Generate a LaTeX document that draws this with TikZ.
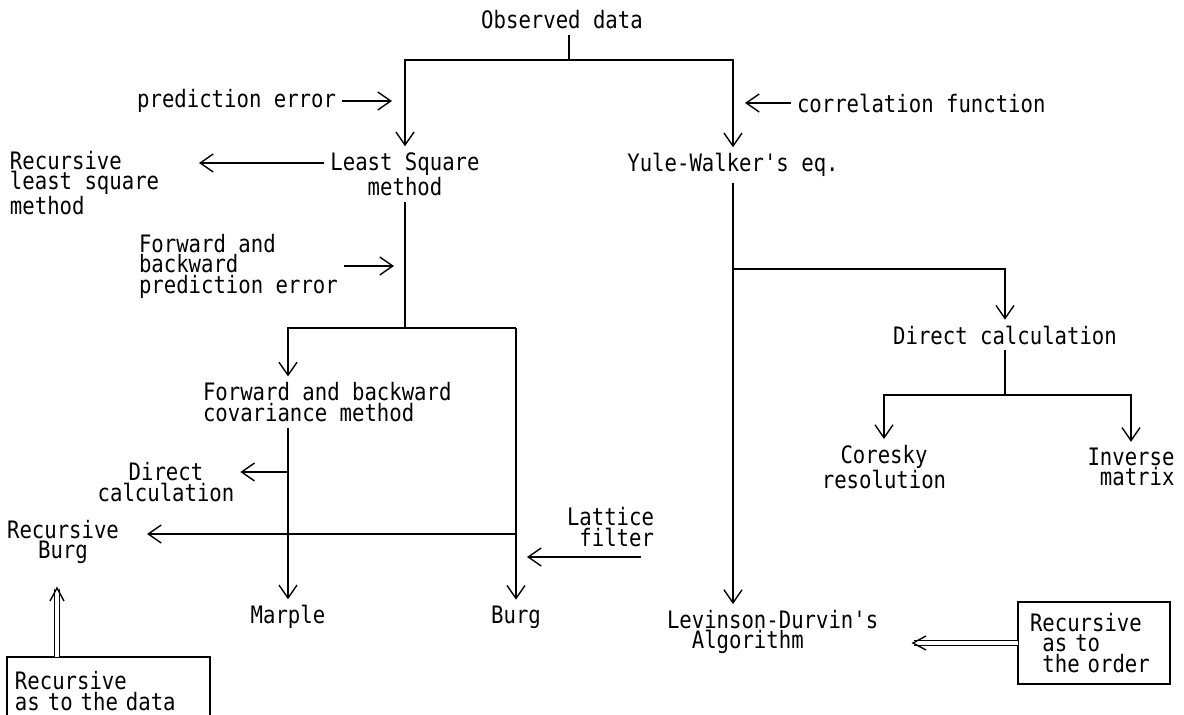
\documentclass[tikz,border=0pt]{standalone}
\usepackage{fontspec}
\usepackage{tikz}
\usetikzlibrary{arrows.meta}
\newfontfamily\jisfont[FakeStretch=0.86]{DejaVu Sans Mono}
\newcommand{\diagfont}{\jisfont\fontsize{12}{10.25}\selectfont}

\begin{document}
\begin{tikzpicture}[x=0.5pt,y=-0.5pt]
\useasboundingbox (0,0) rectangle (1184,715);
\begin{scope}[every node/.style={font=\diagfont,inner sep=3pt,outer sep=0pt},
              frame_box/.style={draw,line width=0.7pt,align=left,anchor=north west}]
    \node (obs) at (562, 20) {Observed data};
    \node[anchor=east] (pe) at (342, 101) {prediction error};
    \node[anchor=west] (cf) at (791, 103) {correlation function};
    \node[align=center] (lsm) at (405, 174) {Least Square\\method};
    \node (yw) at (733, 165) {Yule-Walker's eq.};
    \node[align=left,anchor=west] (rls) at (4, 183) {Recursive\\least square\\method};
    \node[align=left,anchor=west] (fbpe) at (133, 266) {Forward and\\backward\\prediction error};
    \node[align=left,anchor=west] (fbcm) at (197, 402) {Forward and backward\\covariance method};
    \node[align=center] (dc) at (166, 482) {Direct\\calculation};
    \node[align=center] (rburg) at (63, 542) {Recursive\\Burg};
    \node[align=right,anchor=east] (lat) at (660, 527) {Lattice\\filter};
    \node (marple) at (288, 617) {Marple};
    \node (burg) at (516, 617) {Burg};
    \node[align=left,anchor=west] (lev) at (661, 632) {Levinson-Durvin's\\\phantom{Le}Algorithm};
    \node (ddc) at (1005, 335) {Direct calculation};
    \node[align=center] (cor) at (884, 467) {Coresky\\resolution};
    \node[align=right] (inv) at (1131, 467) {Inverse\\matrix};
    \node[frame_box,text width=93.5pt,inner xsep=4pt,minimum height=34pt] (rdata) at (7, 657) {Recursive\\as to the data};
    \node[frame_box,text width=64pt,inner xsep=6pt,minimum height=41pt] (rorder) at (1018, 602) {Recursive\\\phantom{R}as to\\\phantom{R}the order};
\end{scope}
\begin{scope}[>={Straight Barb[length=6.5pt,width=9pt]},line width=0.7pt,
              dbl_edge/.style={double,double distance=1.6pt,line width=0.6pt,shorten >=0.5pt}]
    \coordinate (top) at (569, 60);
    \coordinate (lsq_split) at (405, 328);
    \coordinate (burg_split) at (516, 328);
    \coordinate (yw_split) at (733, 269);
    \coordinate (dc_split) at (1005, 395);
    \coordinate (pe_tip) at (392, 101);
    \coordinate (cf_tip) at (745, 103);
    \coordinate (rls_tip) at (199, 163);
    \coordinate (fbpe_tip) at (394, 266);
    \coordinate (dc_branch) at (288, 472);
    \coordinate (rburg_branch) at (516, 534);
    \coordinate (rburg_tip) at (147, 534);
    \coordinate (lat_tail) at (641, 557);
    \coordinate (lat_tip) at (527, 557);
    \coordinate (rdata_tip) at (57, 588);
    \coordinate (lev_tip) at (913, 643);

    \draw (obs.south -| top) -- (top);
    \draw[->] (top) -| (lsm);
    \draw[->] (top) -| (yw);
    \draw[->] (pe) -- (pe_tip);
    \draw[->] (cf) -- (cf_tip);
    \draw[->] (lsm.west |- rls_tip) -- (rls_tip);
    \draw (lsm) -- (lsq_split);
    \draw[->] (fbpe) -- (fbpe_tip);
    \draw[->] (burg_split) -| (fbcm.north -| marple);
    \draw[->] (burg_split) -- (burg);
    \draw[->] (fbcm.south -| marple) -- (marple);
    \draw[->] (dc_branch) -- (dc.east |- dc_branch);
    \draw[->] (rburg_branch) -- (rburg_tip);
    \draw[->] (lat_tail) -- (lat_tip);
    \draw[->] (yw) -- (yw |- lev.north);
    \draw[->] (yw_split) -| (ddc);
    \draw (ddc) -- (dc_split);
    \draw[->] (dc_split) -| (cor);
    \draw[->] (dc_split) -| (inv);
    % double arrows with open heads
    \draw[dbl_edge] (rdata.north -| rdata_tip) -- (rdata_tip);
    \draw ([shift={(-7,13)}]rdata_tip) -- (rdata_tip) -- ([shift={(7,13)}]rdata_tip);
    \draw[dbl_edge] (rorder) -- (lev_tip);
    \draw ([shift={(13,-7)}]lev_tip) -- (lev_tip) -- ([shift={(13,7)}]lev_tip);
\end{scope}
\end{tikzpicture}
\end{document}
